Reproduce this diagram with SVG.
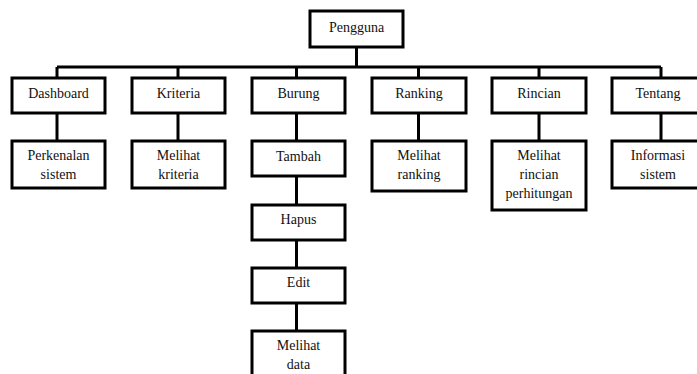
<svg xmlns="http://www.w3.org/2000/svg" width="697" height="374" viewBox="0 0 697 374">
<style>
.box{fill:#fff;stroke:#000;stroke-width:3}
.ln{fill:none;stroke:#000;stroke-width:3}
text{font-family:"Liberation Serif","Times New Roman",serif;font-size:14px;fill:#111;text-anchor:middle}
</style>
<rect width="697" height="374" fill="#fff"/>
<g id="connectors" class="ln">
<path d="M356.5 47V67M57 67H661M57 67V78M178 67V78M296.5 67V78M418.5 67V78M539 67V78M661 67V78"/>
<path d="M57 113V141M178 113V141M296.5 113V141M418.5 113V141M539 113V141M661 113V141"/>
<path d="M296.5 176V205M296.5 240V268M296.5 303V331"/>
</g>
<g id="pengguna"><rect class="box" x="310" y="11" width="93" height="36"/><text x="356.5" y="32">Pengguna</text></g>
<g id="dashboard"><rect class="box" x="12" y="78" width="93" height="35"/><text x="58.5" y="98">Dashboard</text></g>
<g id="kriteria"><rect class="box" x="132" y="78" width="93" height="35"/><text x="178.5" y="98">Kriteria</text></g>
<g id="burung"><rect class="box" x="252" y="78" width="93" height="35"/><text x="298.5" y="98">Burung</text></g>
<g id="ranking"><rect class="box" x="372" y="78" width="94" height="35"/><text x="419" y="98">Ranking</text></g>
<g id="rincian"><rect class="box" x="492" y="78" width="94" height="35"/><text x="539" y="98">Rincian</text></g>
<g id="tentang"><rect class="box" x="612" y="78" width="94" height="35"/><text x="658" y="98">Tentang</text></g>
<g id="perkenalan"><rect class="box" x="12" y="141" width="93" height="47"/><text x="58.5" y="160">Perkenalan</text><text x="58.5" y="179">sistem</text></g>
<g id="melihat-kriteria"><rect class="box" x="132" y="141" width="93" height="47"/><text x="178.5" y="160">Melihat</text><text x="178.5" y="179">kriteria</text></g>
<g id="tambah"><rect class="box" x="252" y="141" width="93" height="35"/><text x="298.5" y="161">Tambah</text></g>
<g id="melihat-ranking"><rect class="box" x="372" y="141" width="94" height="50"/><text x="419" y="160">Melihat</text><text x="419" y="179">ranking</text></g>
<g id="melihat-rincian"><rect class="box" x="492" y="141" width="94" height="69"/><text x="539" y="160">Melihat</text><text x="539" y="179">rincian</text><text x="539" y="198">perhitungan</text></g>
<g id="informasi"><rect class="box" x="612" y="141" width="94" height="47"/><text x="658" y="160">Informasi</text><text x="658" y="179">sistem</text></g>
<g id="hapus"><rect class="box" x="252" y="205" width="93" height="35"/><text x="298.5" y="224">Hapus</text></g>
<g id="edit"><rect class="box" x="252" y="268" width="93" height="35"/><text x="298.5" y="287">Edit</text></g>
<g id="melihat-data"><rect class="box" x="252" y="331" width="93" height="60"/><text x="298.5" y="350">Melihat</text><text x="298.5" y="369">data</text></g>
</svg>
